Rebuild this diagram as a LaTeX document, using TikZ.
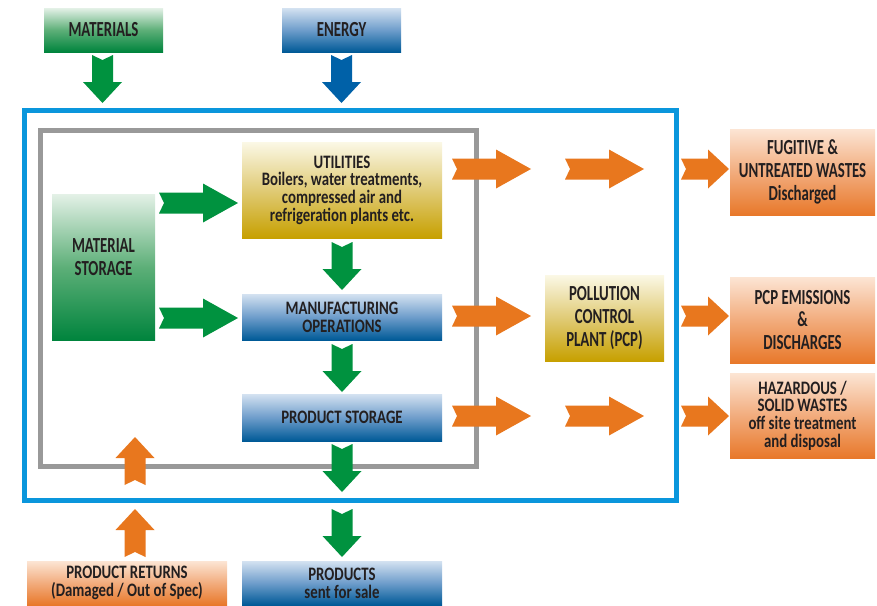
\documentclass[tikz,border=0pt]{standalone}
\usepackage{fontspec}
\newfontfamily\labf[FakeStretch=0.78]{Carlito}
\newfontfamily\labn[FakeStretch=0.69]{Carlito}
\definecolor{txt}{HTML}{231F20}
\definecolor{greenD}{HTML}{00843D}
\definecolor{greenM}{HTML}{5DAF78}
\definecolor{greenL}{HTML}{E4F1E7}
\definecolor{blueD}{HTML}{005A97}
\definecolor{blueM}{HTML}{6E9DCB}
\definecolor{blueL}{HTML}{D4E2F1}
\definecolor{goldD}{HTML}{C7A000}
\definecolor{goldM}{HTML}{E0CB76}
\definecolor{goldL}{HTML}{FBF8E6}
\definecolor{orD}{HTML}{E8782A}
\definecolor{orM}{HTML}{F2AC7D}
\definecolor{orL}{HTML}{FCE5D4}
\definecolor{arrG}{HTML}{00923F}
\definecolor{arrB}{HTML}{0061A8}
\definecolor{arrO}{HTML}{E8771E}
\definecolor{frameB}{HTML}{0A96DC}
\definecolor{frameG}{HTML}{999999}
% color, x, y, angle, length, head length
\newcommand\blockarrow[6]{%
  \fill[#1,shift={(#2,#3)},rotate=#4] (0,10.5) -- ({#5-#6},10.5) -- ({#5-#6},19.5) -- (#5,0)
    -- ({#5-#6},-19.5) -- ({#5-#6},-10.5) -- (0,-10.5) -- (5,0) -- cycle;}
\tikzset{
  box/.style={inner sep=0pt, align=center, text=txt},
  fs18/.style={font=\labf\bfseries\fontsize{19}{17.7}\selectfont},
  fs20/.style={font=\labn\bfseries\fontsize{21.5}{20}\selectfont},
  fs21/.style={font=\labn\bfseries\fontsize{21.5}{22.7}\selectfont},
  gbox/.style={box, top color=greenL, bottom color=greenD, middle color=greenM},
  bbox/.style={box, top color=blueL, bottom color=blueD, middle color=blueM},
  ybox/.style={box, top color=goldL, bottom color=goldD, middle color=goldM},
  obox/.style={box, top color=orL, bottom color=orD, middle color=orM},
  frame/.style={line width=5pt}
}
\begin{document}
\begin{tikzpicture}[x=1pt,y=-1pt]
\useasboundingbox (0,0) rectangle (877,605);
% frames
\draw[frame, frameB] (24.5,110) rectangle (676,500);
\draw[frame, frameG] (40.5,130) rectangle (476,466);
% boxes
\node[gbox, fs20, minimum width=119pt, minimum height=44pt] (mat) at (103.5,30) {MATERIALS};
\node[bbox, fs20, minimum width=119pt, minimum height=44pt] (ene) at (341.5,30) {ENERGY};
\node[gbox, minimum width=103pt, minimum height=146pt] (ms) at (103.5,267) {};
\node[box, fs21] (mstxt) at (103.5,257) {MATERIAL\\STORAGE};
\node[ybox, fs18, minimum width=200pt, minimum height=96pt] (util) at (342,190)
  {UTILITIES\\Boilers, water treatments,\\compressed air and\\refrigeration plants etc.};
\node[bbox, fs18, minimum width=200pt, minimum height=46pt] (manu) at (342,317) {MANUFACTURING\\OPERATIONS};
\node[bbox, fs18, minimum width=200pt, minimum height=47pt] (ps) at (342,417.5) {PRODUCT STORAGE};
\node[ybox, fs21, minimum width=119pt, minimum height=86pt] (pcp) at (604.5,318) {POLLUTION\\CONTROL\\PLANT (PCP)};
\node[obox, fs21, minimum width=145pt, minimum height=86pt] (fug) at (802.5,172) {FUGITIVE \&\\UNTREATED WASTES\\Discharged};
\node[obox, fs21, minimum width=145pt, minimum height=86pt] (pcpe) at (802.5,320) {PCP EMISSIONS\\\&\\DISCHARGES};
\node[obox, fs18, minimum width=145pt, minimum height=85pt] (haz) at (802.5,415.5) {HAZARDOUS /\\SOLID WASTES\\off site treatment\\and disposal};
\node[obox, fs18, minimum width=200pt, minimum height=44pt] (ret) at (127,583) {PRODUCT RETURNS\\(Damaged / Out of Spec)};
\node[bbox, fs18, minimum width=200pt, minimum height=44pt] (prod) at (342,583) {PRODUCTS\\sent for sale};
% down arrows
\blockarrow{arrG}{102.5}{55}{-90}{48}{21}
\blockarrow{arrB}{341.5}{55}{-90}{48}{21}
\blockarrow{arrG}{342}{242}{-90}{48}{21}
\blockarrow{arrG}{342}{344}{-90}{48}{21}
\blockarrow{arrG}{342}{444}{-90}{48}{21}
\blockarrow{arrG}{342}{509}{-90}{48}{21}
% up arrows
\blockarrow{arrO}{135}{485}{90}{48}{21}
\blockarrow{arrO}{135}{557}{90}{48}{21}
% right green
\blockarrow{arrG}{159}{203}{0}{79}{35}
\blockarrow{arrG}{159}{318}{0}{79}{35}
% right orange
\blockarrow{arrO}{452}{169}{0}{79}{35}
\blockarrow{arrO}{565}{169}{0}{79}{35}
\blockarrow{arrO}{681}{169}{0}{48}{21}
\blockarrow{arrO}{452}{316}{0}{79}{35}
\blockarrow{arrO}{681}{316}{0}{48}{21}
\blockarrow{arrO}{452}{416}{0}{79}{35}
\blockarrow{arrO}{565}{416}{0}{79}{35}
\blockarrow{arrO}{681}{416}{0}{48}{21}
\end{tikzpicture}
\end{document}
